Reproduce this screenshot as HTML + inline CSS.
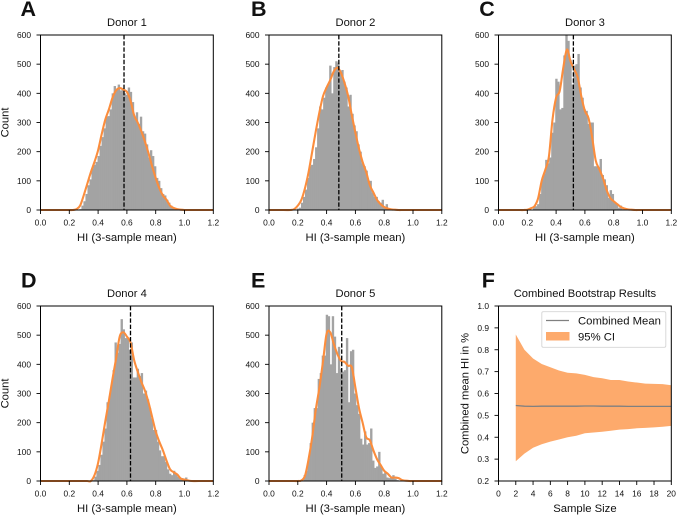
<!DOCTYPE html>
<html>
<head>
<meta charset="utf-8">
<style>
html,body{margin:0;padding:0;background:#fff;}
svg{display:block;font-family:"Liberation Sans",Arial,sans-serif;}
</style>
</head>
<body>
<svg id="fig" width="677" height="515" viewBox="0 0 677 515" xmlns="http://www.w3.org/2000/svg"></svg>
<script>
const binWidth = 0.014;
const kdeX = [0.15,0.175,0.2,0.225,0.25,0.275,0.3,0.325,0.35,0.375,0.4,0.425,0.45,0.475,0.5,0.525,0.55,0.575,0.6,0.625,0.65,0.675,0.7,0.725,0.75,0.775,0.8,0.825,0.85,0.875,0.9,0.925,0.95,0.975,1.0,1.025,1.05];
const xTickLabels = ["0.0","0.2","0.4","0.6","0.8","1.0","1.2"];
const yTickLabels = ["0","100","200","300","400","500","600"];

const donorTitles = ["Donor 1","Donor 2","Donor 3","Donor 4","Donor 5"];
const donorLetters = ["A","B","C","D","E"];
const donorMeans = [0.58,0.485,0.52,0.625,0.505];
const histStarts = [0.27,0.18,0.24,0.36,0.24];

const histDonor1 = [3,15,30,55,85,105,143,155,165,185,220,250,280,320,322,345,400,425,415,430,410,415,400,395,420,405,370,320,335,295,320,270,262,225,180,205,185,150,110,100,75,55,50,35,25,15,8];
const histDonor2 = [2,5,8,25,45,70,110,150,155,175,215,280,355,345,385,420,430,495,400,490,510,505,470,480,440,420,355,395,330,290,270,225,200,160,150,135,100,100,60,45,45,30,25,35,8,20,5,2];
const histDonor3 = [10,13,20,55,105,125,172,160,180,265,300,450,440,345,350,530,600,580,515,430,495,500,535,420,385,345,340,295,300,300,150,150,145,175,120,105,85,42,68,55,25,22,8,15,3,2];
const histDonor4 = [3,15,35,55,90,135,180,270,290,330,380,475,440,470,555,520,490,490,450,475,355,355,385,360,370,300,310,280,250,215,175,175,135,105,85,85,65,40,25,20,35,25,15,12,10,5,12,3];
const histDonor5 = [20,35,75,130,200,250,250,350,370,430,430,570,565,400,565,495,370,460,385,375,380,490,270,445,450,300,260,230,145,125,170,125,130,180,70,45,50,100,50,25,30,12,10,15,20,8,3];

const kdeDonor1 = [0,0,0,0,3,15,50,90,130,165,205,260,310,345,385,410,418,413,405,375,325,300,270,235,195,150,110,75,50,35,15,7,3,1,0,0,0];
const kdeDonor2 = [0,3,15,35,75,130,200,270,335,390,420,445,475,488,470,435,390,325,265,210,165,130,85,60,35,20,10,5,2,1,0,0,0,0,0,0,0];
const kdeDonor3 = [0,0,1,6,13,40,100,138,183,310,385,408,488,550,510,483,455,390,340,315,250,170,140,110,70,42,30,20,10,5,2,1,0,0,0,0,0];
const kdeDonor4 = [0,0,0,0,0,0,0,0,0,20,62,130,205,275,350,420,495,510,495,475,415,375,340,310,270,220,170,135,105,70,40,30,22,8,5,2,0];
const kdeDonor5 = [0,0,0,2,18,75,150,245,320,410,505,510,470,435,412,408,395,390,320,250,200,150,140,105,75,55,35,25,12,12,10,3,1,0,0,0,0];

const sampleSizes = [2,3,4,5,6,7,8,9,10,11,12,13,14,15,16,17,18,19,20];
const ciUpper = [0.87,0.80,0.76,0.735,0.72,0.705,0.695,0.692,0.685,0.675,0.67,0.662,0.662,0.655,0.65,0.645,0.644,0.643,0.638];
const ciLower = [0.29,0.325,0.352,0.368,0.38,0.39,0.40,0.407,0.418,0.422,0.425,0.43,0.435,0.437,0.441,0.443,0.445,0.448,0.452];
const combinedMean = [0.545,0.542,0.541,0.542,0.542,0.542,0.542,0.542,0.543,0.543,0.542,0.542,0.542,0.541,0.541,0.541,0.541,0.541,0.541];
const fXTickLabels = ["0","2","4","6","8","10","12","14","16","18","20"];
const fYTickLabels = ["0.2","0.3","0.4","0.5","0.6","0.7","0.8","0.9","1.0"];

const histAll = [histDonor1,histDonor2,histDonor3,histDonor4,histDonor5];
const kdeAll = [kdeDonor1,kdeDonor2,kdeDonor3,kdeDonor4,kdeDonor5];

const NS = "http://www.w3.org/2000/svg";
const fig = document.getElementById("fig");
const BAR = "#a3a3a3", ORANGE = "#fb8d3d", BAND = "#fdaa6c", TXT = "#111";

function mk(tag, attrs, parent){
  const el = document.createElementNS(NS, tag);
  for(const k in attrs) el.setAttribute(k, attrs[k]);
  (parent||fig).appendChild(el);
  return el;
}
function smooth(pts){
  let d = "M"+pts[0][0].toFixed(2)+" "+pts[0][1].toFixed(2);
  for(let i=0;i<pts.length-1;i++){
    const p0=pts[Math.max(i-1,0)],p1=pts[i],p2=pts[i+1],p3=pts[Math.min(i+2,pts.length-1)];
    const c1x=p1[0]+(p2[0]-p0[0])/6,c1y=p1[1]+(p2[1]-p0[1])/6;
    const c2x=p2[0]-(p3[0]-p1[0])/6,c2y=p2[1]-(p3[1]-p1[1])/6;
    d+="C"+c1x.toFixed(2)+" "+c1y.toFixed(2)+" "+c2x.toFixed(2)+" "+c2y.toFixed(2)+" "+p2[0].toFixed(2)+" "+p2[1].toFixed(2);
  }
  return d;
}
function frame(g, L, R, T, B){
  const el = mk("rect",{x:L,y:T,width:R-L,height:B-T,fill:"none",stroke:"#000","stroke-width":1},g);
  
  
}
function xTick(g, px, label, B){
  const t = mk("line",{x1:px,x2:px,y1:B,y2:B+4,stroke:"#000","stroke-width":0.9},g);
  
  
  const s = mk("text",{x:px,y:B+15.5,"text-anchor":"middle","font-size":8.4,fill:TXT},g);
  s.textContent = label;
  
  
}
function yTick(g, py, label, L){
  const t = mk("line",{x1:L-4,x2:L,y1:py,y2:py,stroke:"#000","stroke-width":0.9},g);
  
  
  const s = mk("text",{x:L-9.5,y:py+3,"text-anchor":"end","font-size":8.4,fill:TXT},g);
  s.textContent = label;
  
  
}
function labelText(g, x, y, str, size, name, rotate, anchor, weight){
  const a = {x:x,y:y,"text-anchor":anchor||"middle","font-size":size,fill:TXT};
  if(rotate) a.transform = "rotate(-90 "+x+" "+y+")";
  if(weight) a["font-weight"] = weight;
  const s = mk("text",a,g);
  s.textContent = str;
  
  
}

const lefts = [40.5,269,498.5,40.5,269];
const tops = [35,35,35,306,306];
const letterX = [20.5,251,479.3,21,251];
const letterY = [16,16,16,287.3,287.3];
const PW = 172.8, PH = 175;

donorTitles.forEach(function(title,idx){
  const L=lefts[idx], T=tops[idx], R=L+PW, B=T+PH;
  const xs=function(v){return L+v/1.2*PW;};
  const ys=function(v){return B-v/600*PH;};
  const g = mk("g",{});
  
  

  const bars = mk("g",{},g);
  
  
  histAll[idx].forEach(function(v,i){
    const x0 = xs(histStarts[idx]+i*binWidth);
    const x1 = xs(histStarts[idx]+(i+1)*binWidth);
    const bar = mk("rect",{x:x0,y:ys(v),width:x1-x0+0.35,height:B-ys(v),fill:BAR},bars);
    
    
  });

  const pts = [[xs(0),ys(0)],[xs(0.1),ys(0)]];
  kdeX.forEach(function(x,i){pts.push([xs(x),ys(kdeAll[idx][i])]);});
  pts.push([xs(1.1),ys(0)]);
  pts.push([xs(1.2),ys(0)]);
  const curve = mk("path",{d:smooth(pts),fill:"none",stroke:ORANGE,"stroke-width":2.1,"stroke-linejoin":"round"},g);
  
  

  const mean = mk("line",{x1:xs(donorMeans[idx]),x2:xs(donorMeans[idx]),y1:T,y2:B,stroke:"#000","stroke-width":1.3,"stroke-dasharray":"4.4 1.8"},g);
  
  

  frame(g,L,R,T,B);
  xTickLabels.forEach(function(lb){xTick(g,xs(parseFloat(lb)),lb,B);});
  yTickLabels.forEach(function(lb){yTick(g,ys(parseFloat(lb)),lb,L);});
  labelText(g,(L+R)/2,T-9,title,11.2,"panel-title");
  labelText(g,(L+R)/2,B+31,"HI (3-sample mean)",11.3,"x-axis-title");
  if(idx===0||idx===3) labelText(g,8.5,(T+B)/2,"Count",11.2,"y-axis-title",true);
  labelText(fig,letterX[idx],letterY[idx],donorLetters[idx],21.5,"panel-letter",false,"start","bold");
});

(function(){
  const L=498.5,T=306,R=L+PW,B=T+PH;
  const xs=function(v){return L+v/20*PW;};
  const ys=function(v){return B-(v-0.2)/0.8*PH;};
  const g = mk("g",{});
  
  

  let d="";
  sampleSizes.forEach(function(n,i){d+=(i?"L":"M")+xs(n).toFixed(2)+" "+ys(ciUpper[i]).toFixed(2);});
  for(let i=sampleSizes.length-1;i>=0;i--){d+="L"+xs(sampleSizes[i]).toFixed(2)+" "+ys(ciLower[i]).toFixed(2);}
  const band = mk("path",{d:d+"Z",fill:BAND},g);
  
  

  let m="";
  sampleSizes.forEach(function(n,i){m+=(i?"L":"M")+xs(n).toFixed(2)+" "+ys(combinedMean[i]).toFixed(2);});
  const ml = mk("path",{d:m,fill:"none",stroke:"#808080","stroke-width":1.3},g);
  
  

  frame(g,L,R,T,B);
  fXTickLabels.forEach(function(lb){xTick(g,xs(parseFloat(lb)),lb,B);});
  fYTickLabels.forEach(function(lb){yTick(g,ys(parseFloat(lb)),lb,L);});
  labelText(g,(L+R)/2,T-9,"Combined Bootstrap Results",11.2,"panel-title");
  labelText(g,(L+R)/2,B+31,"Sample Size",11.3,"x-axis-title");
  labelText(g,468.5,(T+B)/2,"Combined mean HI in %",11.2,"y-axis-title",true);
  labelText(fig,481.7,287.3,"F",21.5,"panel-letter",false,"start","bold");

  const lg = mk("g",{},g);
  
  
  const box = mk("rect",{x:541.8,y:311.7,width:124,height:35.6,rx:1.5,fill:"#fff",stroke:"#d5d5d5","stroke-width":0.9},lg);
  
  
  const sw1 = mk("line",{x1:546,x2:569,y1:320.5,y2:320.5,stroke:"#808080","stroke-width":1.3},lg);
  
  
  const sw2 = mk("rect",{x:546,y:332,width:23.5,height:8.5,fill:BAND},lg);
  
  
  labelText(lg,578,324.3,"Combined Mean",11.3,"legend-entry",false,"start");
  labelText(lg,578,340.3,"95% CI",11.3,"legend-entry",false,"start");
})();
</script>
</body>
</html>
